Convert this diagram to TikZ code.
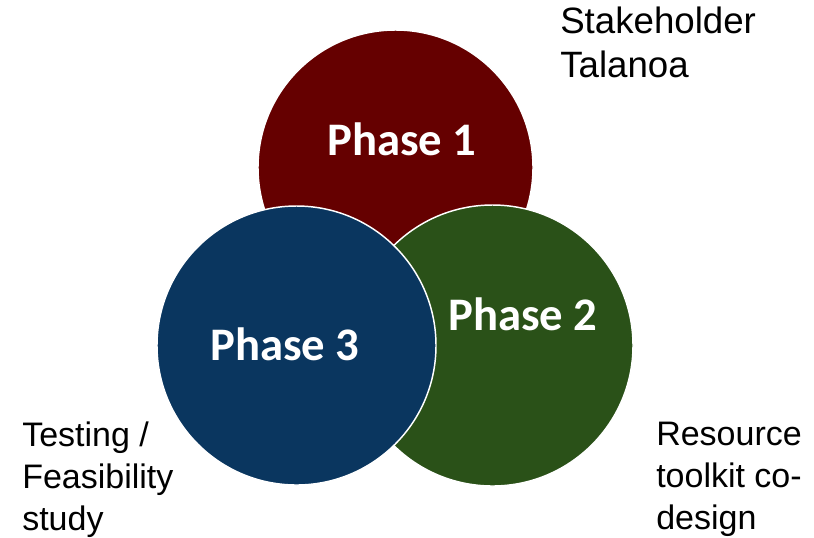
\documentclass[tikz,border=0pt]{standalone}
\usepackage{fontspec}
\setmainfont{Liberation Sans}
\newfontfamily\phasefont{Carlito}
\usepackage{xcolor}
\usepackage{tikz}
\usetikzlibrary{positioning}
\usetikzlibrary{calc}

\definecolor{phaseRed}{HTML}{650000}
\definecolor{phaseGreen}{HTML}{2A5118}
\definecolor{phaseBlue}{HTML}{0A365F}

\begin{document}
\begin{tikzpicture}[x=0.75pt, y=-0.75pt,
    phase/.style={circle, draw=white, line width=1.1pt, inner sep=0pt},
    phasetext/.style={text=white, font=\phasefont\bfseries\fontsize{35}{40}\selectfont},
    stagetext/.style={anchor=north west, align=left, inner sep=0pt, text=black}]
      \useasboundingbox (0,0) rectangle (814,537);
      % the three overlapping phases
      \node[phase, fill=phaseRed,   minimum size=206.25pt] (ph1) at (395.5,167.5) {};
      \node[phase, fill=phaseGreen, minimum size=210.75pt] (ph2) at (492.5,345.5) {};
      \node[phase, fill=phaseBlue,  minimum size=209.25pt] (ph3) at (296.5,345.5) {};
      \node[phasetext] (t1) at (402,139) {Phase 1};
      \node[phasetext] (t2) at (523,314) {Phase 2};
      \node[phasetext] (t3) at (285,344) {Phase 3};
      % stage descriptions
      \node[stagetext, font=\fontsize{27.5}{33}\selectfont] (s1) at (560,7)
        {Stakeholder\\Talanoa};
      \node[stagetext, font=\fontsize{25.5}{31.5}\selectfont] (s2) at (656,422)
        {Resource\\toolkit co-\\design};
      \node[stagetext, font=\fontsize{25.5}{31.5}\selectfont] (s3) at (22,422)
        {Testing /\\Feasibility\\study};
\end{tikzpicture}
\end{document}
